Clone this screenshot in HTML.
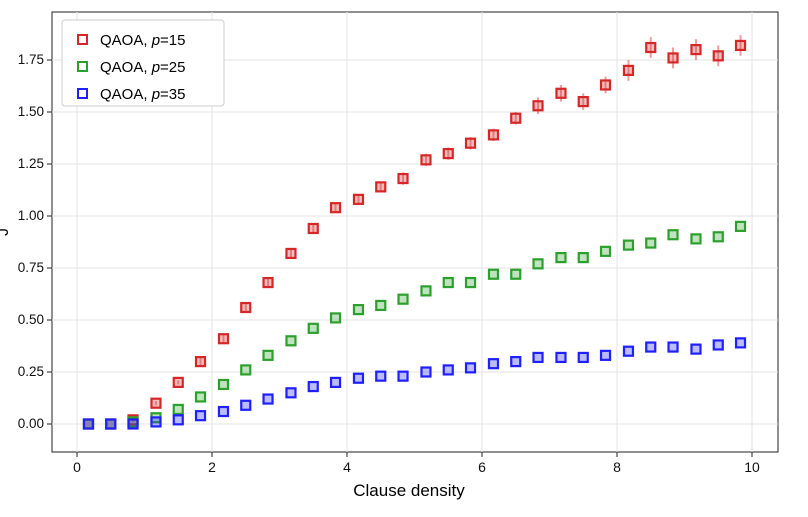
<!DOCTYPE html>
<html><head><meta charset="utf-8">
<style>
body{margin:0;background:#fff;font-family:"Liberation Sans",sans-serif;}
svg text{font-family:"Liberation Sans",sans-serif;}
</style></head>
<body>
<svg id="chart" width="808" height="512" xmlns="http://www.w3.org/2000/svg">
<rect x="52" y="12" width="726" height="440" fill="#fff" stroke="#222" stroke-width="1"/>
<g id="grid"></g><g id="ticks"></g><g id="marks"></g>
<text x="409" y="496" font-size="17" text-anchor="middle">Clause density</text>
<text x="8" y="232" font-size="16" text-anchor="middle" transform="rotate(-90 8 232)">J</text>
<g>
<rect x="62" y="20" width="162" height="86" rx="3" fill="#fff" stroke="#ccc"/>
<rect x="78" y="35" width="9" height="9" fill="none" stroke="#d62728" stroke-width="2"/>
<text x="100" y="45" font-size="15">QAOA, <tspan font-style="italic">p</tspan>=15</text>
<rect x="78" y="62" width="9" height="9" fill="none" stroke="#2ca02c" stroke-width="2"/>
<text x="100" y="72" font-size="15">QAOA, <tspan font-style="italic">p</tspan>=25</text>
<rect x="78" y="89" width="9" height="9" fill="none" stroke="#1f1fff" stroke-width="2"/>
<text x="100" y="99" font-size="15">QAOA, <tspan font-style="italic">p</tspan>=35</text>
</g>
</svg>
<script>
const xTicks=[0,2,4,6,8,10];
const yTicks=[0,0.25,0.5,0.75,1.0,1.25,1.5,1.75];
const yTickLabels=["0.00","0.25","0.50","0.75","1.00","1.25","1.50","1.75"];
const densities=[0.17,0.5,0.83,1.17,1.5,1.83,2.17,2.5,2.83,3.17,3.5,3.83,4.17,4.5,4.83,5.17,5.5,5.83,6.17,6.5,6.83,7.17,7.5,7.83,8.17,8.5,8.83,9.17,9.5,9.83];
const p15=[0,0,0.02,0.10,0.20,0.30,0.41,0.56,0.68,0.82,0.94,1.04,1.08,1.14,1.18,1.27,1.30,1.35,1.39,1.47,1.53,1.59,1.55,1.63,1.70,1.81,1.76,1.80,1.77,1.82];
const p25=[0,0,0.01,0.03,0.07,0.13,0.19,0.26,0.33,0.40,0.46,0.51,0.55,0.57,0.60,0.64,0.68,0.68,0.72,0.72,0.77,0.80,0.80,0.83,0.86,0.87,0.91,0.89,0.90,0.95];
const p35=[0,0,0,0.01,0.02,0.04,0.06,0.09,0.12,0.15,0.18,0.20,0.22,0.23,0.23,0.25,0.26,0.27,0.29,0.30,0.32,0.32,0.32,0.33,0.35,0.37,0.37,0.36,0.38,0.39];
const p15err=[0,0,0.01,0.01,0.01,0.02,0.02,0.02,0.02,0.02,0.02,0.02,0.02,0.02,0.03,0.03,0.03,0.03,0.03,0.03,0.04,0.04,0.04,0.04,0.05,0.05,0.05,0.05,0.05,0.05];
const sx=v=>77+v*67.5, sy=v=>424-v*208;
const NS="http://www.w3.org/2000/svg";
function mk(t,a,p){const e=document.createElementNS(NS,t);for(const k in a)e.setAttribute(k,a[k]);p.appendChild(e);return e;}
const grid=document.getElementById('grid'),ticks=document.getElementById('ticks'),marks=document.getElementById('marks');
xTicks.forEach(v=>{
 const l=mk('line',{x1:sx(v),x2:sx(v),y1:12,y2:452,stroke:'#e3e3e3'},grid);
 
 
 mk('line',{x1:sx(v),x2:sx(v),y1:452,y2:457,stroke:'#222'},ticks);
 const t=mk('text',{x:sx(v),y:472,'font-size':14,'text-anchor':'middle',fill:'#111'},ticks);t.textContent=v;
 
 
});
yTicks.forEach((v,i)=>{
 const l=mk('line',{x1:52,x2:778,y1:sy(v),y2:sy(v),stroke:'#e3e3e3'},grid);
 
 
 mk('line',{x1:47,x2:52,y1:sy(v),y2:sy(v),stroke:'#222'},ticks);
 const t=mk('text',{x:44,y:sy(v)+4,'font-size':13.5,'text-anchor':'end',fill:'#111'},ticks);t.textContent=yTickLabels[i];
 
 
});
function series(vals,col,name,errs){
 vals.forEach((v,i)=>{
  if(errs){
   const e=mk('line',{x1:sx(densities[i]),x2:sx(densities[i]),y1:sy(v+errs[i]),y2:sy(v-errs[i]),stroke:col,'stroke-opacity':0.45,'stroke-width':2},marks);
   
   
  }
  const r=mk('rect',{x:sx(densities[i])-4.5,y:sy(v)-4.5,width:9,height:9,fill:col,'fill-opacity':0.3,stroke:col,'stroke-width':2.2},marks);
  
  
 });
}
series(p15,'#d62728','p15',p15err);
series(p25,'#2ca02c','p25');
series(p35,'#1f1fff','p35');
</script>
</body></html>
